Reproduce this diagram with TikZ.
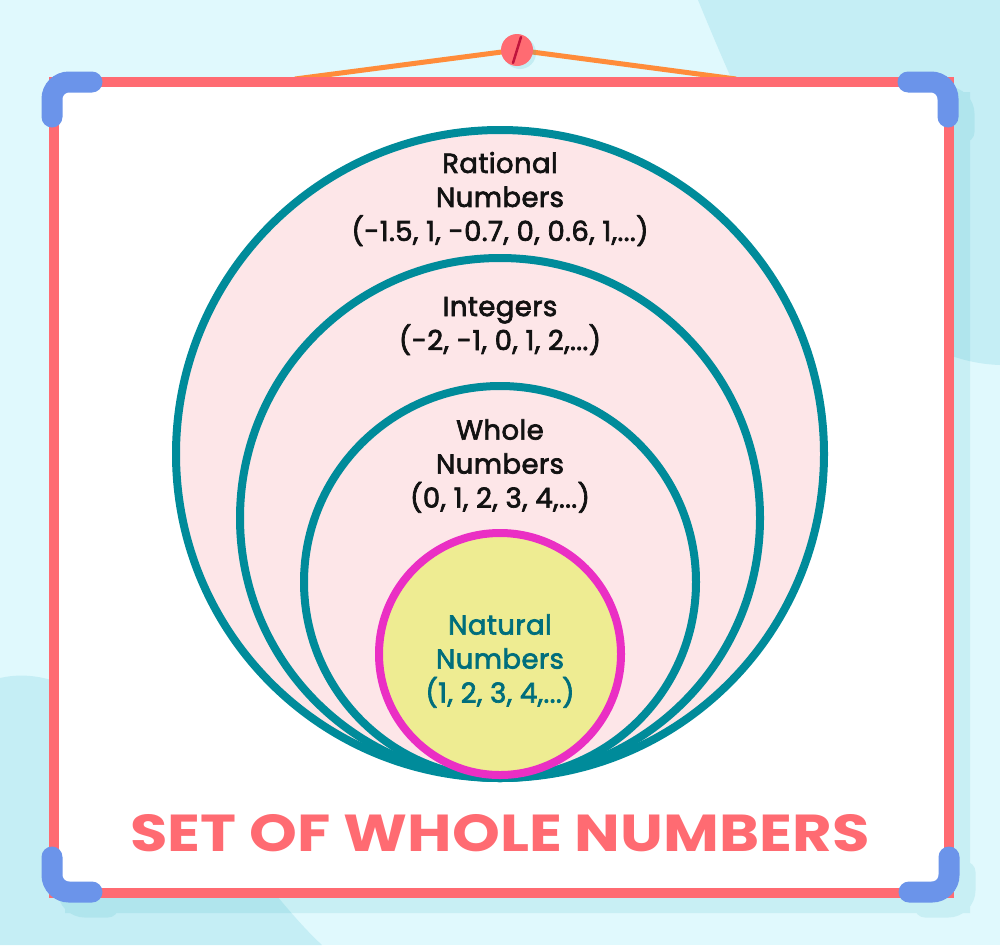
\documentclass[tikz,border=0pt]{standalone}
\usepackage{fontspec}
\setmainfont{Poppins}
\newfontfamily\lblfont{Poppins}[FakeBold=2.5, LetterSpace=1.5]
\definecolor{bgl}{HTML}{E0F9FD}
\definecolor{blobc}{HTML}{C5EEF5}
\definecolor{shadc}{RGB}{41,174,186}
\definecolor{coralc}{HTML}{FF6B72}
\definecolor{bracketc}{HTML}{6B94EA}
\definecolor{setteal}{HTML}{008B9A}
\definecolor{pinkfill}{HTML}{FDE6E8}
\definecolor{setmag}{HTML}{EA2FC4}
\definecolor{yellfill}{HTML}{EEEC92}
\definecolor{natteal}{HTML}{006E7C}
\definecolor{strcol}{HTML}{FF8C3A}
\definecolor{slashc}{HTML}{C0143C}
\tikzset{
  setring/.style={circle, draw=setteal, fill=pinkfill, line width=8pt, inner sep=0pt, minimum size=#1},
  natring/.style={circle, draw=setmag, fill=yellfill, line width=8pt, inner sep=0pt, minimum size=#1},
  lbl/.style={align=center, text=black!93, font=\lblfont\fontsize{27.5}{34}\selectfont, inner sep=0pt},
  natlbl/.style={lbl, text=natteal},
  bracketline/.style={draw=bracketc, line width=21pt, line cap=round, rounded corners=17pt},
  stringline/.style={draw=strcol, line width=5pt}
}
\begin{document}
\begin{tikzpicture}[x=1pt,y=-1pt]
\useasboundingbox (0,0) rectangle (1000,945);
% background
\fill[bgl] (0,0) rectangle (1000,945);
\fill[blobc] (698,0) .. controls (760,150) and (850,360) .. (1000,365) -- (1000,0) -- cycle;
\fill[blobc] (0,678) .. controls (120,650) and (240,870) .. (322,945) -- (0,945) -- cycle;
% board shadow
\begin{scope}[shift={(16,15)}, transparency group, opacity=0.13]
  \fill[shadc] (49,77) rectangle (954,898);
  \draw[bracketline, draw=shadc] (52,117) -- (52,82) -- (92,82);
  \draw[bracketline, draw=shadc] (908,82) -- (948,82) -- (948,117);
  \draw[bracketline, draw=shadc] (52,857) -- (52,892) -- (92,892);
  \draw[bracketline, draw=shadc] (909,892) -- (949,892) -- (949,857);
\end{scope}
% strings and pin
\coordinate (sl) at (295,79);
\coordinate (sr) at (736,79);
\coordinate (pinc) at (517,50);
\draw[stringline] (sl) -- (pinc);
\draw[stringline] (sr) -- (pinc);
\fill[shadc, opacity=0.15] (520,53) circle (16);
\node[circle, fill=coralc, minimum size=32pt, inner sep=0pt] (pin) at (pinc) {};
\coordinate (slt) at (521,37);
\coordinate (slb) at (513,63);
\draw[slashc, line width=2.5pt, line cap=round] (slt) -- (slb);
% board
\fill[white] (54,82) rectangle (949,893);
\draw[coralc, line width=10pt] (54,82) rectangle (949,893);
\draw[bracketline] (52,117) -- (52,82) -- (92,82);
\draw[bracketline] (908,82) -- (948,82) -- (948,117);
\draw[bracketline] (52,857) -- (52,892) -- (92,892);
\draw[bracketline] (909,892) -- (949,892) -- (949,857);
% sets
\node[setring=648pt] (rat) at (500,454) {};
\node[setring=520pt] (int) at (500,518) {};
\node[setring=392pt] (whole) at (500,582) {};
\node[natring=242pt] (nat) at (500,654) {};
% labels
\node[lbl] (ratt) at (500,199) {Rational\\Numbers\\(-1.5, 1, -0.7, 0, 0.6, 1,...)};
\node[lbl] (intt) at (500,326) {Integers\\(-2, -1, 0, 1, 2,...)};
\node[lbl] (wholet) at (500,466) {Whole\\Numbers\\(0, 1, 2, 3, 4,...)};
\node[natlbl] (natt) at (500,661) {Natural\\Numbers\\(1, 2, 3, 4,...)};
\node[text=coralc, font=\bfseries\fontsize{52}{60}\selectfont, inner sep=0pt] (title) at (500,833) {\scalebox{1.17}[1]{SET OF WHOLE NUMBERS}};
\end{tikzpicture}
\end{document}
